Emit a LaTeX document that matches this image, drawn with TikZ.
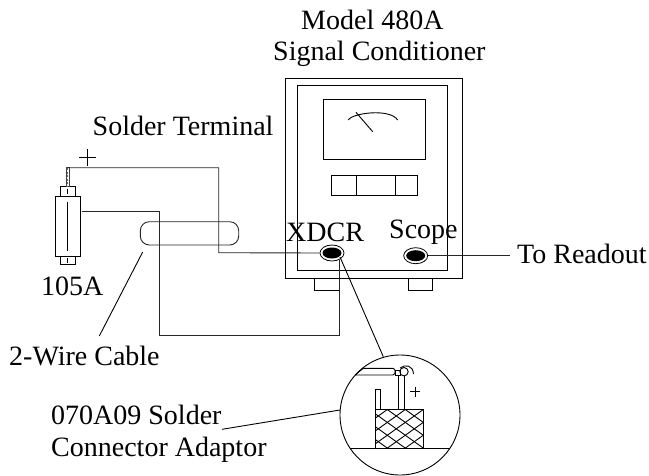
\documentclass[tikz,border=0pt]{standalone}
\usepackage{fontspec}
\setmainfont{Liberation Serif}
\usetikzlibrary{shapes.geometric}
\tikzset{
  ln/.style={draw=black,line width=0.9pt},
  wire/.style={draw=black!85,line width=0.9pt},
  lbl/.style={font=\fontsize{28}{32}\selectfont,inner sep=0pt,text=black,anchor=base west},
  jackouter/.style={ellipse,draw=black,line width=0.8pt,minimum width=24pt,minimum height=16pt,inner sep=0pt},
  jackinner/.style={ellipse,fill=black,minimum width=19pt,minimum height=11pt,inner sep=0pt}
}
\begin{document}
\begin{tikzpicture}[x=1pt,y=-1pt]
\useasboundingbox (0,0) rectangle (649,475);
% instrument
\node[ln,minimum width=177.4pt,minimum height=200.3pt,inner sep=0pt] (outer) at (374,178.15) {};
\node[ln,minimum width=150.7pt,minimum height=184.7pt,inner sep=0pt] (inner) at (372.35,177.65) {};
\node[ln,minimum width=102pt,minimum height=60pt,inner sep=0pt] (meter) at (374,129.3) {};
\draw[ln] (331.3,175) rectangle (417.7,195.3);
\draw[ln] (356.3,175) -- (356.3,195.3) (395,175) -- (395,195.3);
\draw[ln] (348.3,120) .. controls (352,113) and (390,108) .. (397.7,120);
\draw[ln] (356,112.3) -- (372.7,131.7);
\draw[ln] (314.7,278.3) rectangle (339,290.3);
\draw[ln] (408.3,278.3) rectangle (432.7,290.3);
% labels
\node[lbl] (m1) at (301,29.3) {Model 480A};
\node[lbl] (m2) at (273,60.7) {Signal Conditioner};
\node[lbl] (st) at (92.5,135) {Solder Terminal};
\node[lbl] (s105) at (41,295.7) {105A};
\node[lbl] (cab) at (9,365) {2-Wire Cable};
\node[lbl] (ad1) at (51,424) {070A09 Solder};
\node[lbl] (ad2) at (51,456) {Connector Adaptor};
\node[lbl] (ro) at (517,263.3) {To Readout};
\node[lbl] (xd) at (286,241.7) {XDCR};
\node[lbl] (sc) at (389,238.3) {Scope};
% jacks
\node[jackouter,fill=white] (jx) at (332,253) {};
\node[jackinner] at (jx) {};
\node[jackouter,fill=white] (js) at (415.7,255.7) {};
\node[jackinner] at (js) {};
% sensor
\node[ln,minimum width=25pt,minimum height=59.3pt,inner sep=0pt] (body) at (67.8,226.35) {};
\node[ln,minimum width=15.4pt,minimum height=10.7pt,inner sep=0pt] (nut) at (68,191.35) {};
\node[ln,minimum width=15.4pt,minimum height=8.3pt,inner sep=0pt] (nutb) at (68,260.15) {};
\draw[ln,line width=0.8pt] (67.7,201.7) -- (67.7,250.7);
\draw[ln,line width=0.8pt] (67.7,189) -- (67.7,194);
\draw[ln,line width=0.8pt] (67.7,258) -- (67.7,263);
\draw[draw=black!75,line width=0.8pt] (66,167.7) rectangle (69.5,186);
\draw[black!60,line width=1pt,dash pattern=on 2pt off 1.5pt] (67.7,168) -- (67.7,186);
\draw[ln,line width=0.9pt] (79,157.3) -- (95.7,157.3) (87.3,149) -- (87.3,165.7);
% cable
\draw[wire,rounded corners=9pt] (140.3,221.7) rectangle (238.7,245);
% wires
\coordinate (a) at (67.7,167.7);
\coordinate (b) at (218.7,167.7);
\coordinate (c) at (218.7,252.7);
\draw[wire] (a) -- (b) -- (c) -- (jx.west);
\coordinate (d) at (81.7,211.7);
\coordinate (e) at (159.3,211.7);
\coordinate (f) at (159.3,335);
\coordinate (g) at (339,335);
\coordinate (h) at (339,259.5);
\draw[wire] (d) -- (e) -- (f) -- (g) -- (h);
\coordinate (ro1) at (510,255.7);
\draw[wire] (js.east) -- (ro1);
% leaders
\coordinate (l1) at (142.7,252);
\coordinate (l2) at (99.3,336);
\draw[ln] (l1) -- (l2);
% detail
\node[circle,ln,minimum size=120pt,inner sep=0pt] (det) at (400,415) {};
\coordinate (k1) at (340,257);
\coordinate (k2) at (383.3,356.7);
\draw[ln] (k1) -- (k2);
\coordinate (k3) at (222,429.3);
\coordinate (k4) at (340,410);
\draw[ln] (k3) -- (k4);
\begin{scope}
\clip (375,409.3) rectangle (423.7,448.3);
\foreach \k in {-60,-42,...,120}{
  \draw[ln] (375+\k,409.3) -- ++(70,50);
  \draw[ln] (375+\k,448.3) -- ++(70,-50);
}
\end{scope}
\draw[ln] (375,409.3) rectangle (423.7,448.3);
\draw[ln] (350,448.3) -- (450,448.3);
\draw[ln] (375.3,409.3) -- (375.3,389.3) -- (380.7,389.3) -- (380.7,409.3);
\draw[ln] (398.7,409.3) -- (398.7,375) (404,409.3) -- (404,376);
\draw[ln] (355,375) -- (363.3,368.3) -- (393,368.3) .. controls (396,369) and (396,374) .. (393,375) -- (355,375);
\draw[ln] (395,370) rectangle (400,375);
\draw[ln] (404,371.7) circle (4.2pt);
\draw[ln] (400,368) .. controls (405,364) and (413,365) .. (413.5,374);
\draw[ln,line width=0.9pt] (410,391.7) -- (420,391.7) (415,386.5) -- (415,396.5);
\end{tikzpicture}
\end{document}
